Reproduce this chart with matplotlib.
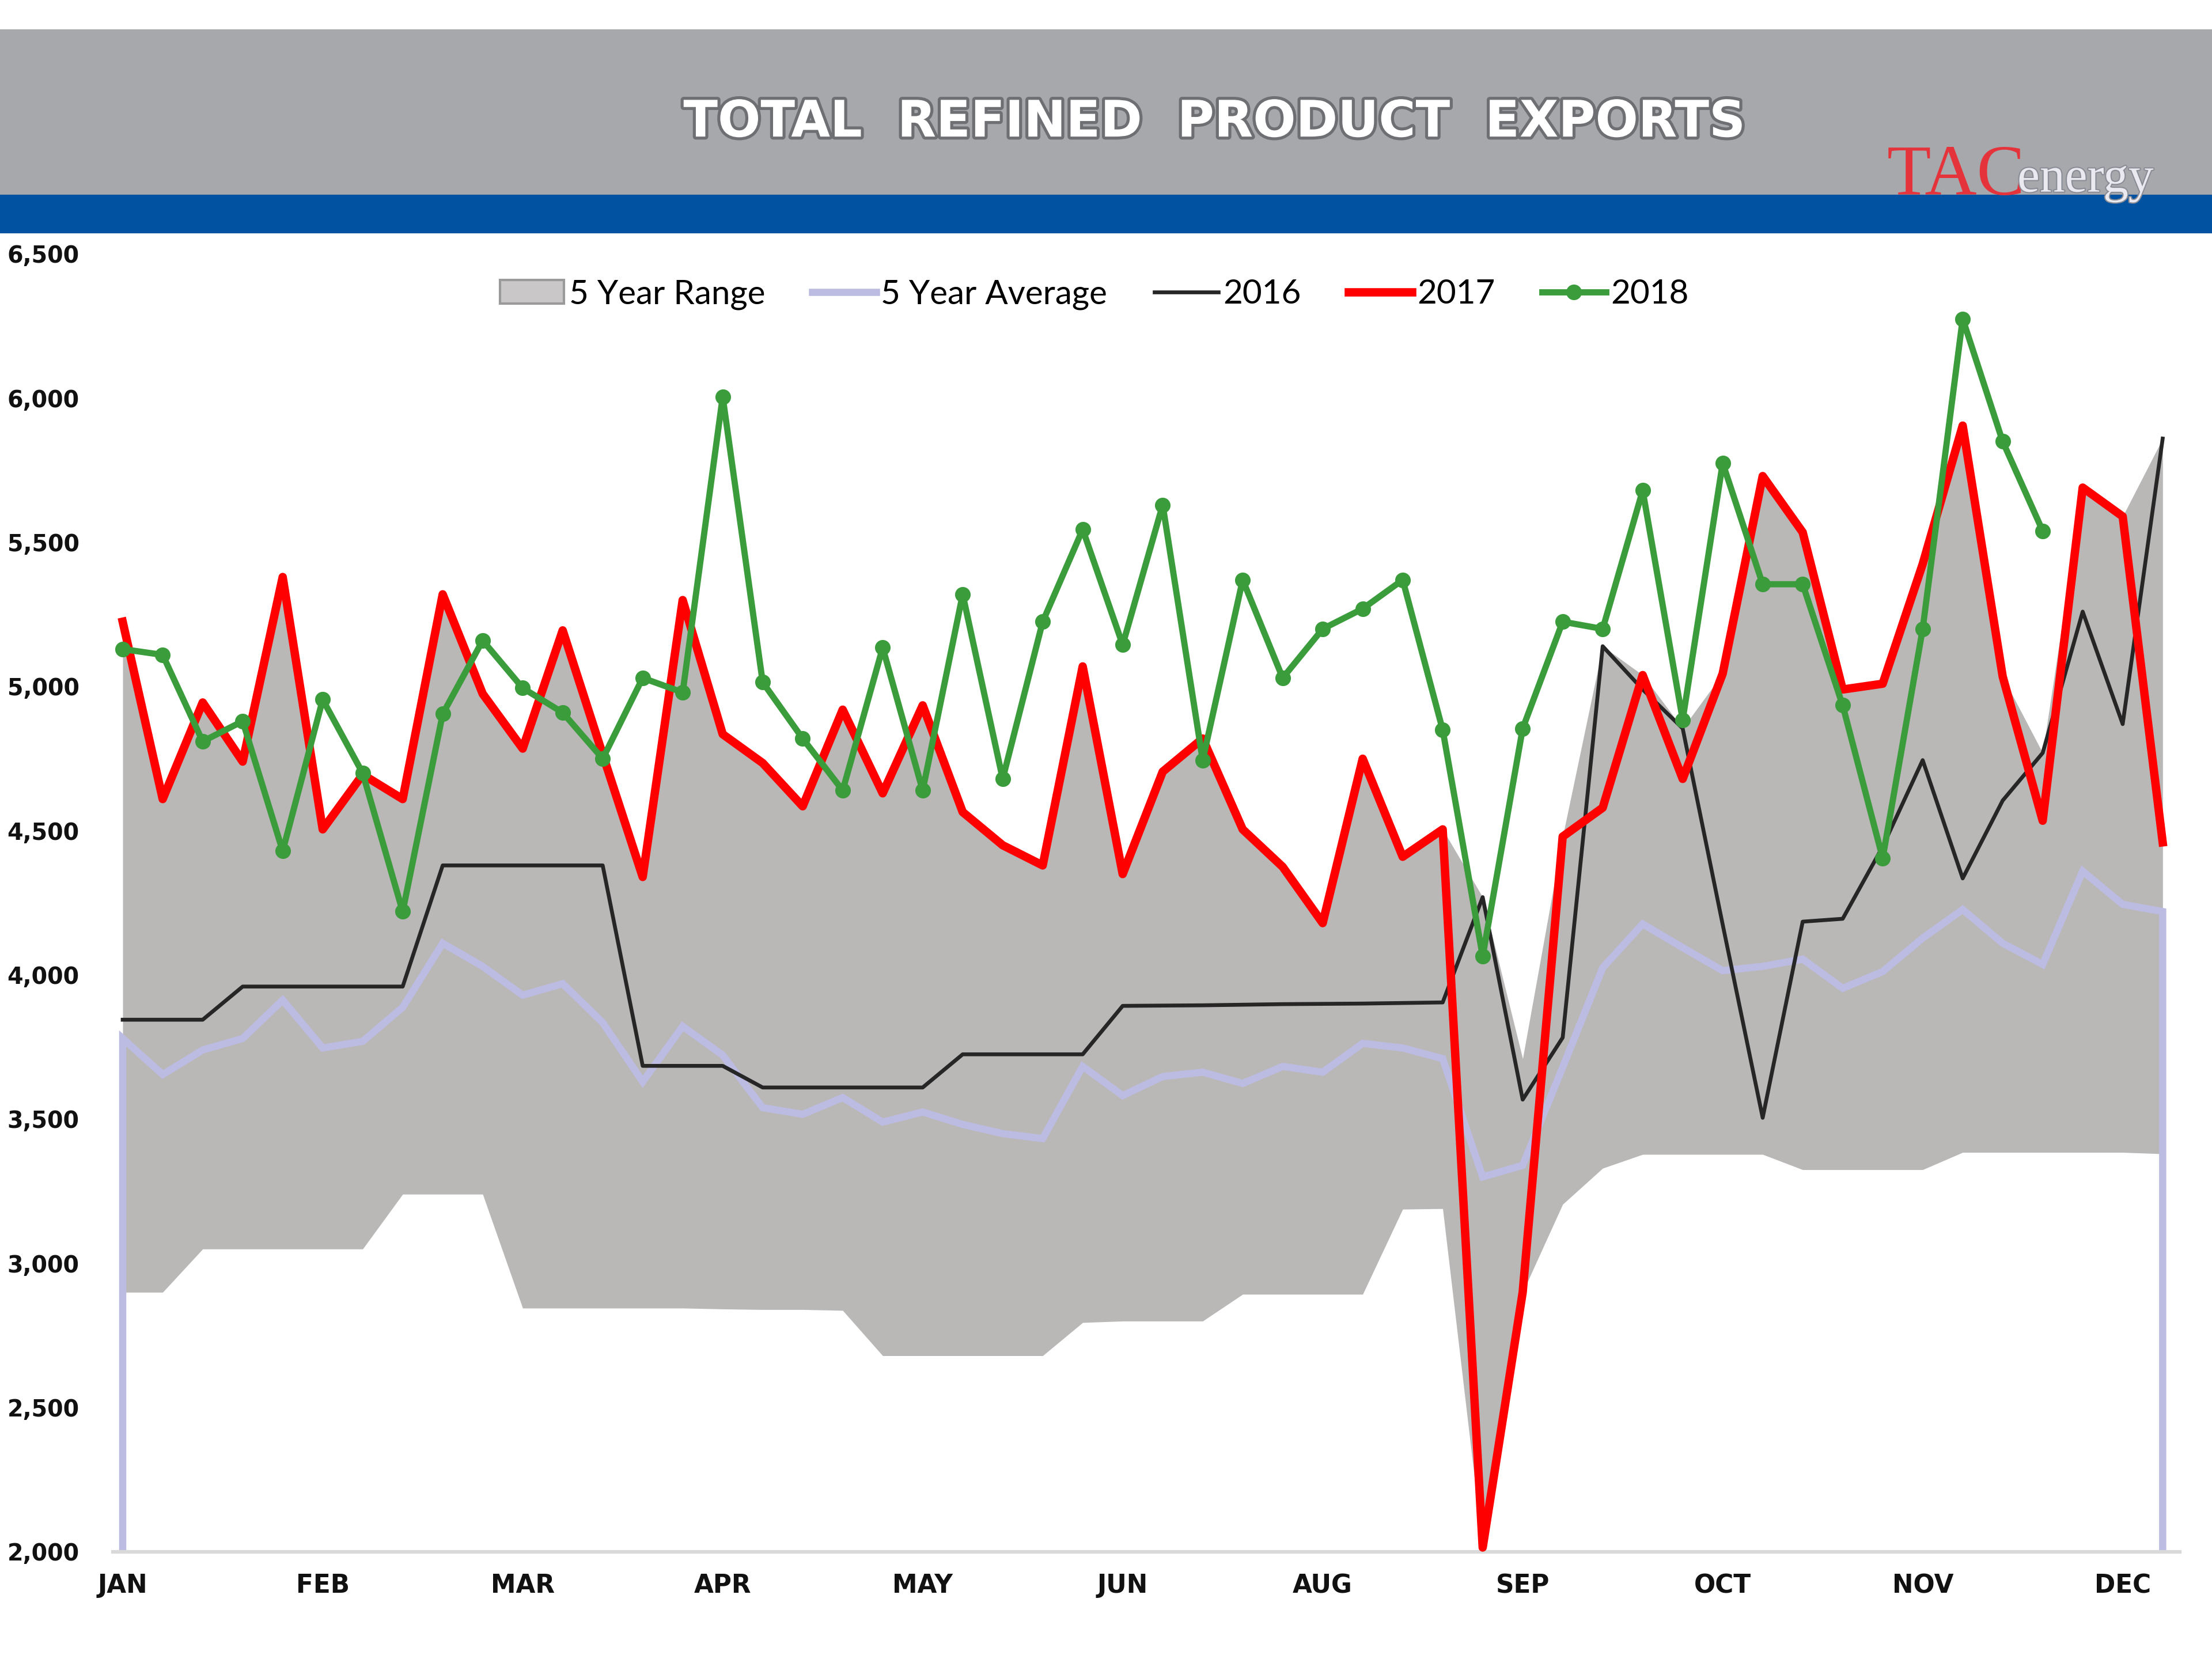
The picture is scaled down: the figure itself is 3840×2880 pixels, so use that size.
import numpy as np
import matplotlib.pyplot as plt
import matplotlib.patheffects as pe
from matplotlib.patches import Rectangle, Patch
from matplotlib.lines import Line2D
from matplotlib.ticker import FuncFormatter

# weekly refined product exports, kb/d
months = ['JAN', 'FEB', 'MAR', 'APR', 'MAY', 'JUN', 'AUG', 'SEP', 'OCT', 'NOV', 'DEC']
label_step = 5

range_lo = [2900, 2900, 3050, 3050, 3050, 3050, 3050, 3240, 3240, 3240,
            2845, 2845, 2845, 2845, 2845, 2842, 2840, 2840, 2837, 2680,
            2680, 2680, 2680, 2680, 2795, 2800, 2800, 2800, 2893, 2893,
            2893, 2893, 3188, 3190, 2015, 2900, 3205, 3330, 3378, 3378,
            3378, 3378, 3325, 3325, 3325, 3325, 3385, 3385, 3385, 3385,
            3385, 3380]
range_hi = [5225, 4610, 4945, 4740, 5380, 4505, 4695, 4610, 5320, 4975,
            4785, 5195, 4765, 4340, 5300, 4835, 4735, 4585, 4920, 4630,
            4935, 4565, 4450, 4380, 5070, 4350, 4705, 4820, 4505, 4375,
            4180, 4750, 4410, 4505, 4270, 3710, 4480, 5140, 5040, 4855,
            5045, 5730, 5535, 4990, 5010, 5425, 5905, 5035, 4770, 5690,
            5590, 5860]
avg_5yr = [3780, 3655, 3740, 3780, 3913, 3747, 3770, 3888, 4110, 4030,
           3930, 3970, 3835, 3630, 3822, 3722, 3540, 3517, 3575, 3490,
           3525, 3482, 3450, 3433, 3683, 3582, 3648, 3663, 3624, 3683,
           3663, 3763, 3747, 3710, 3300, 3340, 3680, 4025, 4177, 4095,
           4015, 4030, 4055, 3954, 4012, 4128, 4227, 4110, 4037, 4360,
           4245, 4220]
y2016 = [3845, 3845, 3845, 3960, 3960, 3960, 3960, 3960, 4380, 4380,
         4380, 4380, 4380, 3685, 3685, 3685, 3610, 3610, 3610, 3610,
         3610, 3725, 3725, 3725, 3725, 3893, 3894, 3895, 3897, 3899,
         3900, 3901, 3903, 3905, 4270, 3568, 3783, 5140, 4990, 4855,
         4175, 3505, 4185, 4195, 4445, 4745, 4335, 4605, 4770, 5260,
         4870, 5860]
y2017 = [5225, 4610, 4945, 4740, 5380, 4505, 4695, 4610, 5320, 4975,
         4785, 5195, 4765, 4340, 5300, 4835, 4735, 4585, 4920, 4630,
         4935, 4565, 4450, 4380, 5070, 4350, 4705, 4820, 4505, 4375,
         4180, 4750, 4410, 4505, 2015, 2900, 4480, 4580, 5040, 4680,
         5045, 5730, 5535, 4990, 5010, 5425, 5905, 5035, 4535, 5690,
         5590, 4460]
y2018 = [5130, 5110, 4810, 4880, 4430, 4955, 4700, 4220, 4905, 5160,
         4995, 4910, 4750, 5030, 4980, 6005, 5015, 4820, 4640, 5135,
         4640, 5320, 4680, 5225, 5545, 5145, 5630, 4745, 5370, 5030,
         5200, 5270, 5370, 4850, 4065, 4855, 5225, 5200, 5680, 4885,
         5775, 5355, 5355, 4935, 4405, 5200, 6275, 5850, 5540]

y_min, y_max = 2000, 6500

fig = plt.figure(figsize=(12.8, 9.6), dpi=300)

# header: grey band, blue stripe, title and logo
fig.add_artist(Rectangle((0, 0.883), 1, 0.0986, transform=fig.transFigure,
                         color='#A7A8AB', zorder=0))
fig.add_artist(Rectangle((0, 0.8601), 1, 0.0218, transform=fig.transFigure,
                         color='#0152A1', zorder=0))
fig.text(0.549, 0.926, 'TOTAL  REFINED  PRODUCT  EXPORTS',
         ha='center', va='center', color='white', fontsize=21, fontweight='bold',
         family='DejaVu Sans',
         path_effects=[pe.withStroke(linewidth=2.5, foreground='#6E6F73')])
fig.text(0.853, 0.8825, 'TAC', ha='left', va='baseline', color='#E5333B',
         fontsize=30, family='Liberation Serif')
fig.text(0.912, 0.8845, 'energy', ha='left', va='baseline', color='#E9E9EF',
         fontsize=21, family='Liberation Serif',
         path_effects=[pe.withStroke(linewidth=1, foreground='#8A8C96')])

ax = fig.add_axes([0.051, 0.0646, 0.9343, 0.7823])
weeks = np.arange(len(y2017))

ax.fill_between(weeks, range_lo, range_hi, color='#BAB7B7', lw=0, zorder=1)
# the average series drops to the axis at both ends, as in the original
avg_x = np.concatenate([[weeks[0]], weeks, [weeks[-1]]])
avg_y = np.concatenate([[y_min], avg_5yr, [y_min]])
ax.plot(avg_x, avg_y, color='#BCBCE2', lw=3, zorder=2, solid_joinstyle='miter')
ax.plot(weeks, y2016, color='#262626', lw=1.6, zorder=3)
ax.plot(weeks, y2017, color='#FF0000', lw=3.5, zorder=4)
ax.plot(weeks[:len(y2018)], y2018, color='#3A9C3A', lw=2.6, marker='o',
        ms=5.5, zorder=5)

ax.set_xlim(-0.247, 51.42)
ax.set_ylim(y_min, y_max)
ax.set_yticks(range(y_min, y_max + 1, 500))
ax.yaxis.set_major_formatter(FuncFormatter(lambda v, p: f'{int(v):,}'))
ax.set_xticks(weeks[::label_step])
ax.set_xticklabels(months)

for s in ['top', 'right', 'left']:
    ax.spines[s].set_visible(False)
ax.spines['bottom'].set_color('#D9D9D9')
ax.spines['bottom'].set_linewidth(1.5)
ax.tick_params(axis='y', length=0, pad=14, labelsize=9.5)
ax.tick_params(axis='x', length=0, pad=9, labelsize=10.5)
for lbl in ax.get_yticklabels() + ax.get_xticklabels():
    lbl.set_fontweight('bold')
    lbl.set_color('#111111')

handles = [
    Patch(facecolor='#C9C7C7', edgecolor='#9A9A9A', linewidth=1),
    Line2D([], [], color='#BCBCE2', lw=3),
    Line2D([], [], color='#262626', lw=1.6),
    Line2D([], [], color='#FF0000', lw=3.5),
    Line2D([], [], color='#3A9C3A', lw=2.6, marker='o', ms=5.5),
]
names = ['5 Year Range', '5 Year Average', '2016', '2017', '2018']
ax.legend(handles, names, loc='center', bbox_to_anchor=(0.475, 0.969), ncol=5,
          frameon=False, handlelength=1.9, handletextpad=0.15, columnspacing=1.4,
          prop={'family': 'Lato', 'size': 14})

fig.savefig('out.png', dpi=300)
